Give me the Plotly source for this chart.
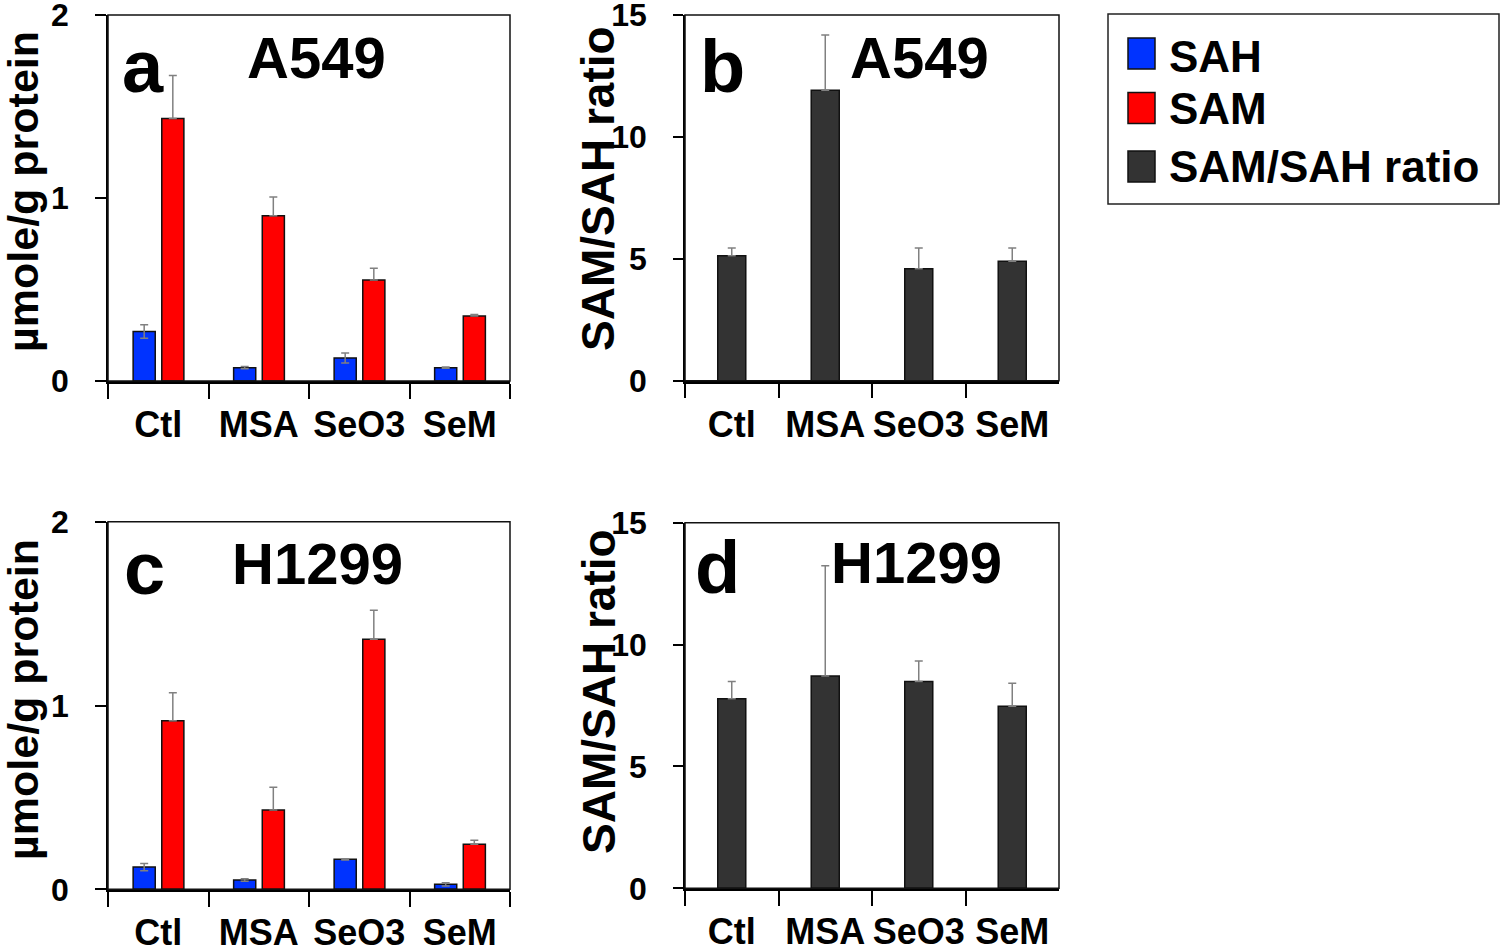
import plotly.graph_objects as go

# ---------------- data ----------------
categories = ["Ctl", "MSA", "SeO3", "SeM"]

a549_sah = [0.271, 0.073, 0.126, 0.073]
a549_sah_err = [0.037, 0.006, 0.027, 0.004]
a549_sam = [1.434, 0.903, 0.552, 0.355]
a549_sam_err = [0.236, 0.102, 0.064, 0.009]
a549_ratio = [5.13, 11.91, 4.59, 4.90]
a549_ratio_err = [0.31, 2.27, 0.85, 0.54]

h1299_sah = [0.121, 0.051, 0.163, 0.027]
h1299_sah_err = [0.020, 0.007, 0.003, 0.009]
h1299_sam = [0.917, 0.431, 1.360, 0.245]
h1299_sam_err = [0.153, 0.124, 0.158, 0.022]
h1299_ratio = [7.78, 8.71, 8.48, 7.47]
h1299_ratio_err = [0.70, 4.52, 0.85, 0.94]

y_ticks_conc = [0, 1, 2]
y_ticks_ratio = [0, 5, 10, 15]

# ---------------- style ----------------
W, H = 1500, 949
FONT = "Liberation Sans, Arial, Helvetica, sans-serif"
C_SAH = "#0033ff"
C_SAM = "#ff0000"
C_RATIO = "#333333"
ERR_COL = "#808080"


def fx(v):
    return v / W


def fy(v):
    return 1 - v / H


def err_sym(vals):
    return dict(type="data", array=vals, visible=True, color=ERR_COL,
                thickness=1.5, width=4)


def err_up(vals):
    return dict(type="data", array=vals, arrayminus=[0] * len(vals),
                symmetric=False, visible=True, color=ERR_COL,
                thickness=1.5, width=4)


fig = go.Figure()

line_black = dict(color="#111111", width=1.5)

# panel a (A549 concentrations)
fig.add_trace(go.Bar(x=categories, y=a549_sah, name="SAH", marker_color=C_SAH,
                     marker_line=line_black, offset=-0.25, width=0.22,
                     error_y=err_sym(a549_sah_err), xaxis="x", yaxis="y",
                     showlegend=False))
fig.add_trace(go.Bar(x=categories, y=a549_sam, name="SAM", marker_color=C_SAM,
                     marker_line=line_black, offset=0.035, width=0.22,
                     error_y=err_up(a549_sam_err), xaxis="x", yaxis="y",
                     showlegend=False))
# panel b (A549 ratio)
fig.add_trace(go.Bar(x=categories, y=a549_ratio, name="SAM/SAH ratio",
                     marker_color=C_RATIO, marker_line=line_black,
                     offset=-0.15, width=0.30,
                     error_y=err_up(a549_ratio_err), xaxis="x2", yaxis="y2",
                     showlegend=False))
# panel c (H1299 concentrations)
fig.add_trace(go.Bar(x=categories, y=h1299_sah, name="SAH", marker_color=C_SAH,
                     marker_line=line_black, offset=-0.25, width=0.22,
                     error_y=err_sym(h1299_sah_err), xaxis="x3", yaxis="y3",
                     showlegend=False))
fig.add_trace(go.Bar(x=categories, y=h1299_sam, name="SAM", marker_color=C_SAM,
                     marker_line=line_black, offset=0.035, width=0.22,
                     error_y=err_up(h1299_sam_err), xaxis="x3", yaxis="y3",
                     showlegend=False))
# panel d (H1299 ratio)
fig.add_trace(go.Bar(x=categories, y=h1299_ratio, name="SAM/SAH ratio",
                     marker_color=C_RATIO, marker_line=line_black,
                     offset=-0.15, width=0.30,
                     error_y=err_up(h1299_ratio_err), xaxis="x4", yaxis="y4",
                     showlegend=False))


def xax(domain, anchor):
    return dict(domain=domain, anchor=anchor, type="category",
                range=[-0.5, 3.5], showline=True, linecolor="#000000",
                linewidth=2.5, ticks="outside", tickson="boundaries",
                ticklen=15, tickwidth=1.5, tickcolor="#000000",
                showgrid=False, zeroline=False, ticklabelstandoff=10,
                tickangle=0, automargin=False, ticklabeloverflow="allow",
                tickfont=dict(family=FONT, size=36, color="#000000",
                              weight="bold"))


def yax(domain, anchor, rng, tickvals, ticklen):
    return dict(domain=domain, anchor=anchor, range=rng, tickvals=tickvals,
                showline=True, linecolor="#000000", linewidth=1.5,
                ticks="outside", ticklen=ticklen, tickwidth=1.5,
                tickcolor="#000000", showgrid=False, zeroline=False,
                ticklabelstandoff=20, automargin=False,
                ticklabeloverflow="allow",
                tickfont=dict(family=FONT, size=32, color="#000000",
                              weight="bold"))


fig.update_layout(
    width=W, height=H,
    margin=dict(l=0, r=0, t=0, b=0, pad=0, autoexpand=False),
    paper_bgcolor="white", plot_bgcolor="white",
    barmode="overlay",
    xaxis=xax([fx(108), fx(510)], "y"),
    yaxis=yax([fy(381), fy(15)], "x", [0, 2], y_ticks_conc, 11),
    xaxis2=xax([fx(685), fx(1059)], "y2"),
    yaxis2=yax([fy(380.7), fy(15)], "x2", [0, 15], y_ticks_ratio, 10),
    xaxis3=xax([fx(108), fx(510)], "y3"),
    yaxis3=yax([fy(889.3), fy(521.7)], "x3", [0, 2], y_ticks_conc, 11),
    xaxis4=xax([fx(685), fx(1059)], "y4"),
    yaxis4=yax([fy(888.3), fy(522.7)], "x4", [0, 15], y_ticks_ratio, 10),
)

# plot frames
shapes = []
for xr, yr in [("x", "y"), ("x2", "y2"), ("x3", "y3"), ("x4", "y4")]:
    shapes.append(dict(type="rect", xref=f"{xr} domain", yref=f"{yr} domain",
                       x0=0, x1=1, y0=0, y1=1,
                       line=dict(color="#111111", width=1.5),
                       fillcolor="rgba(0,0,0,0)", layer="above"))

# legend box + swatches
shapes.append(dict(type="rect", xref="paper", yref="paper",
                   x0=fx(1108), x1=fx(1499), y0=fy(204), y1=fy(14),
                   line=dict(color="#222222", width=1.5),
                   fillcolor="white", layer="below"))
legend_items = [("SAH", C_SAH, 38, 69, 56.5),
                ("SAM", C_SAM, 92.5, 123.5, 108.8),
                ("SAM/SAH ratio", C_RATIO, 151, 182, 166.5)]
annotations = []
for label, col, top, bot, mid in legend_items:
    shapes.append(dict(type="rect", xref="paper", yref="paper",
                       x0=fx(1128), x1=fx(1155), y0=fy(bot), y1=fy(top),
                       line=dict(color="#111111", width=1.5),
                       fillcolor=col, layer="above"))
    annotations.append(dict(text=label, xref="paper", yref="paper",
                            x=fx(1167), y=fy(mid), xanchor="left",
                            yanchor="middle", showarrow=False,
                            font=dict(family=FONT, size=44, color="#000000",
                                      weight="bold")))

# axis titles (rotated)
for txt, x, y, size in [("µmole/g protein", 23, 192, 43),
                        ("µmole/g protein", 23, 700, 43),
                        ("SAM/SAH ratio", 597.5, 188.5, 46),
                        ("SAM/SAH ratio", 599, 692, 46)]:
    annotations.append(dict(text=txt, xref="paper", yref="paper",
                            x=fx(x), y=fy(y), xanchor="center",
                            yanchor="middle", textangle=-90, showarrow=False,
                            font=dict(family=FONT, size=size, color="#000000",
                                      weight="bold")))

# panel letters and cell line labels
for txt, x, y, size in [("a", 143, 66.4, 74), ("A549", 316.7, 57, 58),
                        ("b", 722.5, 66.4, 74), ("A549", 920, 57, 58),
                        ("c", 144, 568.4, 74), ("H1299", 317.5, 563, 58),
                        ("d", 717.5, 567.4, 74), ("H1299", 916, 562.6, 58)]:
    annotations.append(dict(text=txt, xref="paper", yref="paper",
                            x=fx(x), y=fy(y), xanchor="center",
                            yanchor="middle", showarrow=False,
                            font=dict(family=FONT, size=size, color="#000000",
                                      weight="bold")))

fig.update_layout(shapes=shapes, annotations=annotations)

fig.write_html("out.html",
               config={"displayModeBar": False},
               post_script="document.body.style.margin='0';")
